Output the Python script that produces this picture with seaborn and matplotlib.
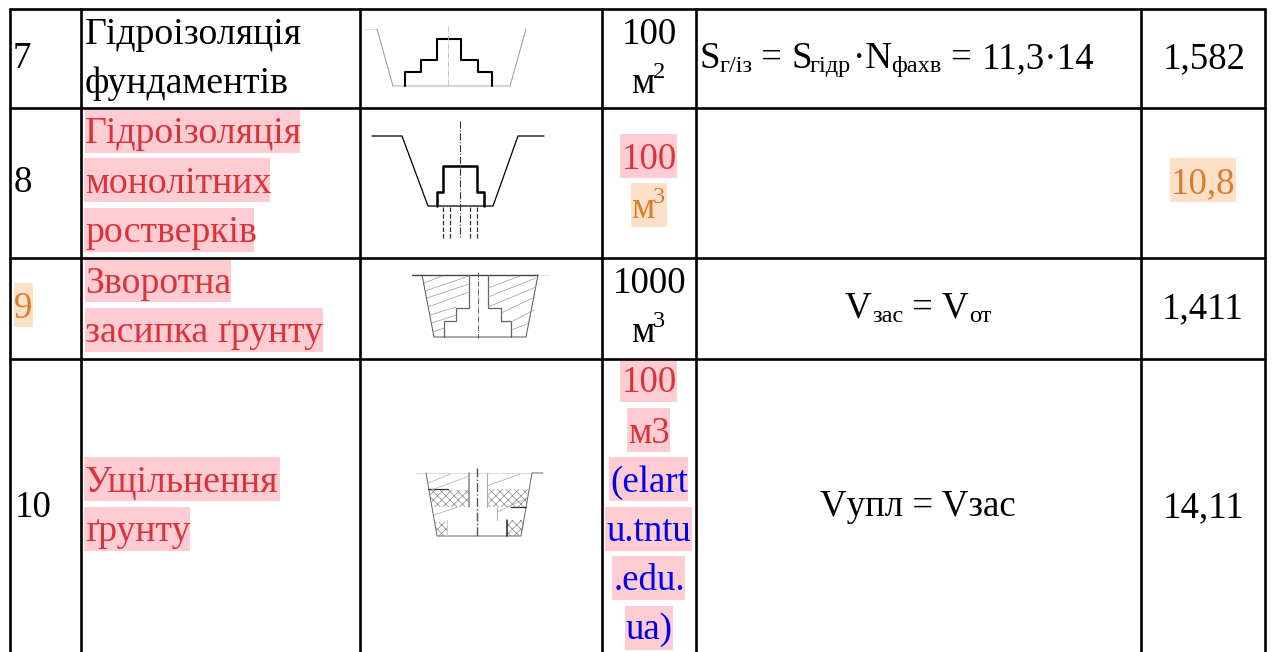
import matplotlib
matplotlib.use("Agg")
import matplotlib.pyplot as plt
import seaborn as sns
from matplotlib.patches import Rectangle, Polygon

sns.set_theme(style="white")
plt.rcParams['font.family'] = ['Liberation Serif', 'DejaVu Serif']
plt.rcParams['hatch.linewidth'] = 0.5

# table rules
col_lines = [10, 81, 360, 602, 696, 1141, 1265]
row_lines = [9, 108, 258, 359]

# cell texts
row_numbers = ["7", "8", "9", "10"]
work_names = [["Гідроізоляція", "фундаментів"],
              ["Гідроізоляція", "монолітних", "ростверків"],
              ["Зворотна", "засипка ґрунту"],
              ["Ущільнення", "ґрунту"]]
units_top = ["100", "100", "1000"]
units_m = "м"
units_sup = ["2", "3", "3"]
units_last = ["100", "м3", "(elart", "u.tntu", ".edu.", "ua)"]
results = ["1,582", "10,8", "1,411", "14,11"]

# sketch outlines
s7_pit_x = [377, 393, 510, 526]
s7_pit_y = [29, 86, 86, 29]
s7_step_x = [405, 405, 421, 421, 437, 437, 461, 461, 478, 478, 492, 492]
s7_step_y = [86, 72, 72, 60, 60, 39, 39, 60, 60, 72, 72, 86]
s8_pit_x = [372, 402, 428, 493, 518, 544]
s8_pit_y = [136, 136, 206, 206, 136, 136]
s8_step_x = [437, 437, 443, 443, 477, 477, 484, 484]
s8_step_y = [206, 192, 192, 166, 166, 192, 192, 206]
s8_piles_x = [443, 450, 470, 477]
s9_pit_x = [422, 434, 526, 538]
s9_pit_y = [275, 337, 337, 275]
s9_left_x = [469, 469, 456, 456, 444, 444]
s9_right_x = [488, 488, 501, 501, 511, 511]
s9_inner_y = [275, 308, 308, 321, 321, 337]
s9_hatch = [(424, 283, 442, 276), (425, 291, 469, 276), (427, 298, 469, 284),
            (428, 307, 469, 292), (430, 315, 456, 307), (432, 323, 456, 315),
            (433, 332, 444, 328), (488, 288, 520, 276), (488, 297, 536, 278),
            (488, 307, 536, 287), (501, 313, 535, 297), (511, 322, 534, 310),
            (511, 330, 530, 323)]
s10_pit_x = [426, 437, 521, 532, 543]
s10_pit_y = [473, 536, 536, 473, 473]
s10_cross = [[(429, 490), (469, 490), (469, 507), (433, 507)],
             [(487, 489), (528, 489), (526, 507), (487, 507)],
             [(435, 522), (447, 522), (447, 536), (437, 536)],
             [(507, 520), (525, 520), (521, 536), (507, 536)]]
s10_hatch = [(426, 484, 450, 474), (429, 491, 469, 476), (434, 515, 458, 507),
             (487, 486, 520, 474), (497, 512, 527, 498)]

PINK = "#ffccd3"
PEACH = "#fde0c8"
RED = "#d8343a"
ORANGE = "#d97d2e"
BLUE = "#0000ee"
FS = 26.6
NAME_FS = 27.2
SUB = 17.6

fig = plt.figure(figsize=(12.73, 6.52), dpi=100)
ax = fig.add_axes([0, 0, 1, 1])


def draw(xs, ys, lw=1.0, color="black", ls="-"):
    sns.lineplot(x=xs, y=ys, sort=False, estimator=None, ax=ax, color=color,
                 linewidth=lw, linestyle=ls, zorder=3)


def txt(x, y, s, color="black", size=FS, ha="left"):
    ax.text(x, y, s, color=color, fontsize=size, ha=ha, va="baseline", zorder=5)


def band(x0, x1, y0, y1, color=PINK):
    ax.add_patch(Rectangle((x0, y0), x1 - x0, y1 - y0, color=color, lw=0, zorder=1))


# grid
for x in col_lines:
    draw([x, x], [row_lines[0], 652], lw=1.9)
for y in row_lines:
    draw([col_lines[0], col_lines[-1]], [y, y], lw=1.9)

# highlights
band(85, 300, 110, 153)
band(84, 270, 158, 202)
band(84, 254, 208, 252)
band(85, 231, 259, 302)
band(85, 323, 308, 352)
band(14, 33, 283, 327, PEACH)
band(84, 280, 457, 501)
band(84, 190, 507, 551)
band(620, 677, 134, 178)
band(631, 667, 183, 227, PEACH)
band(1170, 1236, 158, 202, PEACH)
band(620, 677, 360, 402)
band(627, 670, 408, 452)
band(609, 688, 457, 501)
band(605, 692, 507, 551)
band(612, 685, 556, 600)
band(625, 673, 606, 650)

# first column
txt(13, 68, row_numbers[0])
txt(14, 192, row_numbers[1])
txt(14, 318, row_numbers[2], ORANGE)
txt(15, 517, row_numbers[3])

# names
txt(85, 44, work_names[0][0], size=NAME_FS)
txt(85, 93, work_names[0][1], size=NAME_FS)
for y, s in zip([143, 193, 242], work_names[1]):
    txt(85, y, s, RED, size=NAME_FS)
txt(85, 293, work_names[2][0], RED, size=NAME_FS)
txt(85, 342, work_names[2][1], RED, size=NAME_FS)
txt(85, 492, work_names[3][0], RED, size=NAME_FS)
txt(85, 541, work_names[3][1], RED, size=NAME_FS)

# units
txt(649, 44, units_top[0], ha="center")
txt(631, 93, units_m)
txt(653, 78, units_sup[0], size=SUB)
txt(649, 169, units_top[1], RED, ha="center")
txt(631, 218, units_m, ORANGE)
txt(653, 203, units_sup[1], ORANGE, size=SUB)
txt(650, 293, units_top[2], ha="center")
txt(631, 342, units_m)
txt(653, 327, units_sup[2], size=SUB)
for y, s, c in zip([392, 443, 492, 541, 590, 639], units_last,
                   [RED, RED, BLUE, BLUE, BLUE, BLUE]):
    txt(649, y, s, c, ha="center")

# formulas
txt(700, 68, "S")
txt(720, 72, "г/із", size=SUB)
txt(760, 68, "=")
txt(791, 68, "S")
txt(810, 72, "гідр", size=SUB)
txt(853, 68, "·N")
txt(891, 72, "фахв", size=SUB)
txt(950, 68, "=")
txt(982, 68, "11,3·14")
txt(845, 318, "V")
txt(872, 322, "зас", size=SUB)
txt(911, 318, "=")
txt(942, 318, "V")
txt(969, 322, "от", size=SUB)
txt(820, 516, "Vупл = Vзас")

# results
txt(1204, 68, results[0], ha="center")
txt(1203, 193, results[1], ORANGE, ha="center")
txt(1203, 318, results[2], ha="center")
txt(1204, 517, results[3], ha="center")

# sketch row 7
draw([363, 377], [29, 29], lw=0.7, color="#e4e4e4")
draw(s7_pit_x, s7_pit_y, lw=0.6, color="#8a8a8a")
draw([393, 510], [86, 86], lw=0.9, color="#dddddd")
draw(s7_step_x, s7_step_y, lw=1.5)
draw([448, 448], [26, 88], lw=0.6, color="#b5b5b5", ls="-.")

# sketch row 8
draw(s8_pit_x, s8_pit_y, lw=0.9)
draw(s8_step_x, s8_step_y, lw=1.8)
draw([460, 460], [121, 238], lw=0.8, color="#333333", ls="-.")
for x in s8_piles_x:
    draw([x, x], [207, 240], lw=0.9, color="#333333", ls="--")

# sketch row 9
draw([412, 538], [275, 275], lw=1.0, color="#444444")
draw([538, 549], [275, 275], lw=0.7, color="#e8e8e8")
draw(s9_pit_x, s9_pit_y, lw=0.7, color="#555555")
draw(s9_left_x, s9_inner_y, lw=0.9, color="#666666")
draw(s9_right_x, s9_inner_y, lw=0.9, color="#666666")
draw([478, 478], [272, 338], lw=0.6, color="#444444", ls="-.")
for x0, y0, x1, y1 in s9_hatch:
    draw([x0, x1], [y0, y1], lw=0.5, color="#999999")

# sketch row 10
draw([416, 532], [473, 473], lw=0.8, color="#dddddd")
draw(s10_pit_x, s10_pit_y, lw=0.7, color="#666666")
draw([469, 469], [473, 507], lw=1.1, color="#888888")
draw([487, 487], [473, 507], lw=0.8, color="#aaaaaa")
draw([497, 497], [507, 520], lw=0.8, color="#bbbbbb")
draw([507, 507], [520, 536], lw=1.1, color="#222222")
draw([447, 447], [520, 536], lw=0.7, color="#cccccc")
draw([428, 448], [489, 489], lw=0.9, color="#333333")
draw([511, 526], [507, 507], lw=0.9, color="#333333")
draw([477, 477], [468, 538], lw=1.0, color="#555555", ls="-.")
for pts in s10_cross:
    ax.add_patch(Polygon(pts, closed=True, fill=False, hatch="xxxx",
                         edgecolor="#888888", lw=0, zorder=2))
for x0, y0, x1, y1 in s10_hatch:
    draw([x0, x1], [y0, y1], lw=0.5, color="#aaaaaa")

ax.set_xlim(0, 1273)
ax.set_ylim(652, 0)
ax.axis("off")
fig.savefig("out.png", dpi=100, facecolor="white")
